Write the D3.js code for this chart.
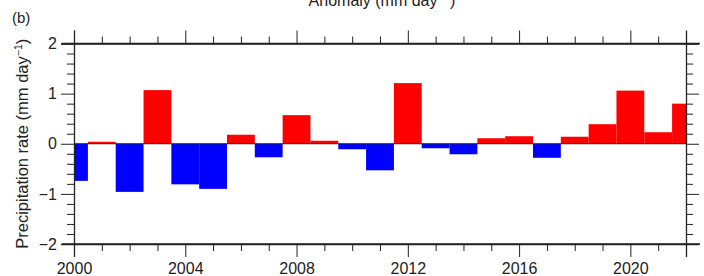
<!DOCTYPE html>
<html>
<head>
<meta charset="utf-8">
<script src="https://cdn.jsdelivr.net/npm/d3@7"></script>
<style>
  body { margin: 0; background: #fff; }
  text { font-family: "Liberation Sans", Arial, sans-serif; fill: #222; }
  .axis path, .axis line { stroke: #222; }
</style>
</head>
<body>
<div class="container"></div>
<script>
const years = d3.range(2000, 2023);
const anomaly = [-0.74, 0.04, -0.96, 1.07, -0.81, -0.90, 0.18, -0.27, 0.57, 0.06,
  -0.11, -0.53, 1.21, -0.09, -0.21, 0.11, 0.15, -0.28, 0.14, 0.39, 1.06, 0.23, 0.80];
const xMajorTicks = [2000, 2004, 2008, 2012, 2016, 2020];
const yMajorTicks = [-2, -1, 0, 1, 2];

(function(){
  const config = {w: 704, h: 276, m: {l: 74, r: 18, t: 43.5, b: 32}, major: 13, minor: 7};

  const svg = d3.select('.container').append('svg')
    .attr('width', config.w)
    .attr('height', config.h);

  const x = d3.scaleLinear()
    .domain([2000, 2022])
    .range([config.m.l, config.w - config.m.r]);

  const y = d3.scaleLinear()
    .domain([-2, 2])
    .range([config.h - config.m.b, config.m.t]);

  svg.append('clipPath').attr('id', 'plot')
    .append('rect')
      .attr('x', x(2000)).attr('y', y(2))
      .attr('width', x(2022) - x(2000))
      .attr('height', y(-2) - y(2));

  // bars centred on each year, one year wide, clipped at the frame
  svg.append('g')
    .attr('clip-path', 'url(#plot)')
  .selectAll('rect')
  .data(years.map((d, i) => ({year: d, v: anomaly[i]})))
  .enter().append('rect')
    .attr('x', d => x(d.year - 0.5))
    .attr('width', d => x(d.year + 0.5) - x(d.year - 0.5))
    .attr('y', d => y(Math.max(0, d.v)))
    .attr('height', d => Math.abs(y(d.v) - y(0)))
    .attr('fill', d => d.v >= 0 ? '#ff0000' : '#0000ff');

  svg.append('line')
    .attr('x1', x(2000)).attr('x2', x(2022))
    .attr('y1', y(0)).attr('y2', y(0))
    .attr('stroke', '#222');

  const xMinor = years.filter(d => !xMajorTicks.includes(d));
  const yMinor = d3.range(-20, 21, 2).map(d => d / 10).filter(d => !yMajorTicks.includes(d));

  function addAxis(axisFn, scale, major, minor, transform, labels) {
    const g = svg.append('g').attr('class', 'axis').attr('transform', transform);
    g.call(axisFn(scale).tickValues(minor).tickSize(config.minor).tickFormat(''))
      .call(a => a.select('.domain').remove());
    const m = svg.append('g').attr('class', 'axis').attr('transform', transform);
    m.call(axisFn(scale).tickValues(major).tickSizeOuter(0).tickSize(config.major)
      .tickFormat(labels ? d3.format('d') : ''));
    return m;
  }

  const bottom = addAxis(d3.axisBottom, x, xMajorTicks, xMinor, `translate(0,${y(-2)})`, true);
  bottom.selectAll('text').attr('font-size', 16).attr('dy', null).attr('y', 30);
  addAxis(d3.axisTop, x, xMajorTicks, xMinor, `translate(0,${y(2)})`, false);
  const left = addAxis(d3.axisLeft, y, yMajorTicks, yMinor, `translate(${x(2000)},0)`, true);
  left.selectAll('text').attr('font-size', 16).attr('x', -17)
    .text(d => d < 0 ? '\u2212' + Math.abs(d) : d);
  addAxis(d3.axisRight, y, yMajorTicks, yMinor, `translate(${x(2022)},0)`, false);

  svg.selectAll('.axis path.domain').attr('stroke-width', 1.3);

  // frame lines run past the corners like the original
  svg.append('g').attr('stroke', '#222').attr('stroke-width', 1.3)
    .selectAll('line')
    .data([y(2), y(-2)])
    .enter().append('line')
      .attr('x1', x(2000) - 12).attr('x2', x(2022) + 14)
      .attr('y1', d => d).attr('y2', d => d);

  svg.append('text')
    .attr('x', 12).attr('y', 23)
    .attr('font-size', 15)
    .text('(b)');

  const title = svg.append('text')
    .attr('x', 382).attr('y', 6)
    .attr('text-anchor', 'middle')
    .attr('font-size', 16)
    .text('Anomaly (mm day');
  title.append('tspan').attr('dy', -6).attr('font-size', 11).text('\u22121');
  title.append('tspan').attr('dy', 6).text(')');

  const ylab = svg.append('text')
    .attr('transform', `translate(28,${y(0)}) rotate(-90)`)
    .attr('text-anchor', 'middle')
    .attr('font-size', 16.5)
    .text('Precipitation rate (mm day');
  ylab.append('tspan').attr('dy', -6).attr('font-size', 10.5).text('\u22121');
  ylab.append('tspan').attr('dy', 6).text(')');
})();
</script>
</body>
</html>
